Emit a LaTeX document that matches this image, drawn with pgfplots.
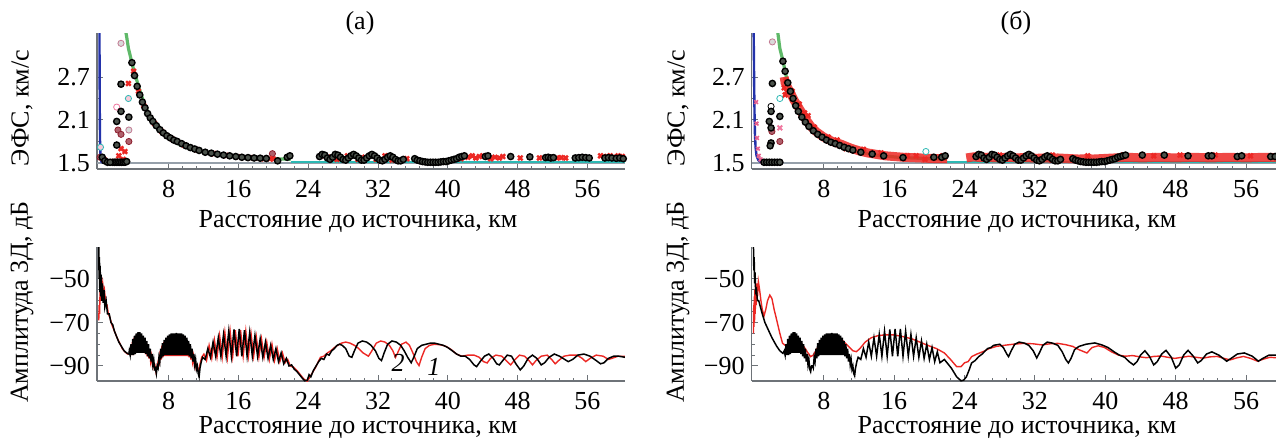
\documentclass[border=0pt]{standalone}
\usepackage{pgfplots}
\pgfplotsset{compat=1.18}
\usepackage{fontspec}
\setmainfont{LiberationSerif}[Extension=.ttf, UprightFont=*-Regular, ItalicFont=*-Italic, BoldFont=*-Bold]
\definecolor{cred}{RGB}{236,40,36}
\definecolor{cdred}{RGB}{140,30,45}
\definecolor{cgreen}{RGB}{95,185,105}
\definecolor{cblue}{RGB}{35,50,170}
\definecolor{cteal}{RGB}{45,185,180}
\definecolor{cpink}{RGB}{240,120,160}
\definecolor{cgray}{RGB}{150,160,170}
\definecolor{caxis}{RGB}{110,115,120}
\definecolor{cfill}{RGB}{75,82,75}
\pgfplotsset{
  panel/.style={
    scale only axis, clip=true,
    axis x line=bottom, axis y line=left,
    axis line style={-, draw=caxis, line width=0.6pt},
    every tick/.style={caxis, line width=0.5pt},
    tick align=inside,
    major tick length=3pt, minor tick length=1.5pt,
    xtick={8,16,24,32,40,48,56},
    minor x tick num=4,
    tick label style={font=\fontsize{13}{13}\selectfont, text=black},
    /pgf/number format/assume math mode=true,
    xticklabel style={yshift=-2pt},
    xmin=-0.2,
  },
  toppanel/.style={panel, ymin=1.416, ymax=3.314, ytick={1.5,2.1,2.7},
    yticklabels={1.5,2.1,2.7}, minor y tick num=1, height=68pt},
  botpanel/.style={panel, ymin=-96.9, ymax=-35.3, ytick={-90,-70,-50},
    yticklabels={−90,−70,−50}, minor y tick num=3, height=67pt},
  bc/.style={only marks, mark=*, mark size=1.55pt,
    mark options={draw=black, fill=cfill, line width=0.7pt}},
  rx/.style={only marks, mark=x, mark size=1.6pt,
    mark options={draw=cred, line width=1.2pt}},
}
\begin{document}
\begin{tikzpicture}
\useasboundingbox (0pt,0pt) rectangle (638pt,-220pt);

% ================= (a) top =================
\begin{axis}[toppanel, at={(48.5pt,-16.5pt)}, anchor=north west, width=264pt, xmax=60.3]
\addplot[cgray, line width=0.6pt] coordinates {(-0.2,1.5) (60.3,1.5)};
\addplot[cteal, line width=0.6pt] coordinates {(22,1.515) (25,1.515) (35.5,1.515) (60.3,1.515)};
\addplot[cblue, line width=1.2pt] coordinates {(0.08,3.33) (0.1,2.8) (0.12,2.2) (0.15,1.8) (0.2,1.6) (0.3,1.52) (0.5,1.5)};
\addplot[cgreen, line width=1.6pt] coordinates {(3.1,3.33) (3.2,3.26) (3.4,3.1) (3.6,3.0) (3.8,2.9) (4.0,2.8) (4.3,2.68) (4.6,2.55) (4.93,2.43) (5.3,2.3) (5.7,2.19) (6.2,2.07) (7.0,1.96) (7.5,1.9) (8,1.86) (9.1,1.77) (10,1.72) (11,1.68) (12.2,1.65) (14,1.61) (16.4,1.58) (18,1.57) (20.2,1.56) (22,1.55)};
% near-source scatter
\addplot[only marks, mark=*, mark size=1.55pt, mark options={draw=cpink!60!gray, fill=gray!30}] coordinates {(2.55,3.17) (3.45,1.96)};
\addplot[only marks, mark=*, mark size=1.55pt, mark options={draw=cpink, fill=white}] coordinates {(2.06,2.28)};
\addplot[only marks, mark=*, mark size=1.55pt, mark options={draw=cteal, fill=cpink!40}] coordinates {(3.4,2.40) (0.2,1.72)};
\addplot[only marks, mark=*, mark size=1.55pt, mark options={draw=cdred, fill=cdred!70}] coordinates {(2.2,1.96) (3.45,1.80) (2.55,1.90) (0.15,1.58) (19.9,1.63)};
\addplot[rx] coordinates {(3.4,2.61) (2.55,1.70) (3.0,1.66) (2.3,1.6) (2.8,1.55) (1.7,1.52) (2.3,1.52) (2.9,1.53) (0.6,1.55)};
\addplot[bc] coordinates {(2.55,2.60) (2.55,2.22) (2.06,2.08) (2.06,1.75) (3.45,2.14) (1.6,1.51) (1.8,1.51) (2.0,1.51) (2.2,1.51) (2.4,1.51) (2.6,1.51) (2.8,1.51) (3.0,1.51) (3.2,1.52) (0.4,1.58) (0.7,1.53) (1.0,1.51) (1.3,1.51)};
% along the curve
\addplot[rx] coordinates {(4.0,2.78) (4.55,2.5) (5.15,2.3) (6.4,2.05) (7.2,1.94) (8.4,1.835) (9.8,1.75) (11.2,1.685) (13.2,1.63) (14.6,1.605) (16.0,1.585) (17.4,1.572) (18.2,1.568) (18.9,1.56) (19.6,1.56) (20.0,1.555)};
\addplot[bc] coordinates {(3.8,2.90) (4.1,2.72) (4.4,2.57) (4.7,2.45) (5.0,2.35) (5.3,2.27) (5.6,2.19) (5.9,2.13) (6.2,2.08) (6.6,2.02) (7.0,1.965) (7.4,1.92) (7.8,1.88) (8.2,1.85) (8.6,1.82) (9.0,1.80) (9.5,1.77) (10.0,1.74) (10.5,1.715) (11.0,1.695) (11.5,1.675) (12.2,1.65) (12.9,1.637) (13.6,1.623) (14.3,1.61) (15.0,1.60) (15.7,1.59) (16.4,1.58) (17.1,1.575) (17.8,1.57) (18.5,1.567) (19.2,1.563) (20.5,1.53) (21.6,1.58) (21.9,1.6)};
% far field
\addplot[rx] coordinates {(25.5,1.6) (26.3,1.58) (27.3,1.55) (28.5,1.6) (29.7,1.55) (30.5,1.58) (31.8,1.55) (32.8,1.6) (33.6,1.54) (35.3,1.56) (41.5,1.56) (42.3,1.58) (42.8,1.60) (43.2,1.57) (43.6,1.59) (44.0,1.6) (44.9,1.56) (45.4,1.58) (45.9,1.57) (46.3,1.59) (48.3,1.57) (50.5,1.57) (52.5,1.57) (53.0,1.575) (53.5,1.57) (57.5,1.6) (58.2,1.59) (58.6,1.6) (59.0,1.58) (59.5,1.6) (60.0,1.59)};
\addplot[bc] coordinates {(25.3,1.59) (25.6,1.62) (25.9,1.61) (26.2,1.57) (26.5,1.55) (26.8,1.58) (27.1,1.62) (27.4,1.61) (27.7,1.58) (28.0,1.55) (28.3,1.54) (28.6,1.57) (28.9,1.60) (29.2,1.62) (29.5,1.60) (29.8,1.57) (30.1,1.54) (30.4,1.54) (30.7,1.57) (31.0,1.60) (31.3,1.62) (31.6,1.60) (31.9,1.57) (32.2,1.54) (32.5,1.53) (32.8,1.55) (33.1,1.58) (33.4,1.60) (33.7,1.58) (34.0,1.55) (34.3,1.53) (34.6,1.53) (34.9,1.55) (36.2,1.56) (36.5,1.54) (36.8,1.53) (37.1,1.52) (37.4,1.515) (37.7,1.51) (38.0,1.51) (38.3,1.51) (38.6,1.51) (38.9,1.51) (39.2,1.515) (39.5,1.52) (39.8,1.52) (40.1,1.53) (40.4,1.54) (40.7,1.55) (41.0,1.56) (41.3,1.58) (41.6,1.59) (41.9,1.60) (44.3,1.59) (44.6,1.60) (47.2,1.59) (49.4,1.585) (51.2,1.575) (51.5,1.58) (51.8,1.57) (52.1,1.575) (54.6,1.57) (55.0,1.575) (55.4,1.58) (55.8,1.575) (56.2,1.57) (58.0,1.57) (58.4,1.575) (58.8,1.57) (59.3,1.565) (59.7,1.57) (60.1,1.56)};
\end{axis}

% ================= (a) bottom =================
\begin{axis}[botpanel, at={(48.5pt,-123.5pt)}, anchor=north west, width=264pt, xmax=60.3]
\addplot[cred, line width=0.7pt] coordinates {
(0.00,-69) (0.05,-62) (0.10,-66) (0.15,-56) (0.20,-60) (0.28,-51) (0.35,-55) (0.45,-52) (0.55,-57) (0.65,-55) (0.80,-61) (0.95,-62) (1.10,-66) (1.30,-68) (1.50,-71) (1.80,-74) (2.10,-77) (2.40,-79.5) (2.70,-82) (3.00,-83.5) (3.30,-84.5) (3.55,-84)
(3.65,-82) (3.75,-85) (3.85,-79) (3.95,-85) (4.05,-77) (4.15,-84.5) (4.25,-76) (4.35,-84) (4.45,-75.5) (4.55,-84) (4.65,-75.5) (4.75,-84) (4.85,-76) (4.95,-84) (5.05,-77) (5.15,-84) (5.25,-78) (5.35,-84.5) (5.45,-79.5) (5.55,-85.5) (5.65,-81) (5.75,-86.5) (5.85,-83) (5.95,-88) (6.05,-85.5) (6.15,-89.5) (6.25,-88) (6.35,-91) (6.45,-90) (6.55,-92.5) (6.65,-91) (6.75,-89)
(6.85,-87) (6.95,-88.5) (7.05,-83) (7.15,-87) (7.25,-80.5) (7.35,-86) (7.45,-79) (7.55,-85.5) (7.65,-78) (7.75,-85.5) (7.85,-77) (7.95,-85.5) (8.05,-76.5) (8.15,-85.5) (8.25,-76) (8.35,-85.5) (8.45,-75.8) (8.55,-85.5) (8.65,-75.5) (8.75,-85.5) (8.85,-75.5) (8.95,-85.5) (9.05,-75.5) (9.15,-85.5) (9.25,-75.5) (9.35,-85.5) (9.45,-75.8) (9.55,-85.5) (9.65,-76) (9.75,-85.5) (9.85,-77) (9.95,-85.5) (10.05,-78) (10.15,-85.5) (10.25,-79.5) (10.35,-86) (10.45,-81) (10.55,-87) (10.65,-83) (10.75,-88) (10.85,-85.5) (10.95,-89.5) (11.05,-88) (11.15,-91) (11.25,-90) (11.35,-92) (11.45,-92) (11.55,-90)
(11.80,-86) (12.05,-84.5) (12.35,-87.5) (12.65,-80.5) (12.95,-86.5) (13.25,-78) (13.55,-86) (13.85,-76) (14.15,-86) (14.45,-74.5) (14.75,-86) (15.05,-73.8) (15.35,-85.5) (15.65,-73.5) (15.95,-85.5) (16.25,-73.5) (16.55,-85.5) (16.85,-74) (17.15,-85.5) (17.45,-75) (17.75,-85.5) (18.05,-76.5) (18.35,-86) (18.65,-77.5) (18.95,-86) (19.25,-79) (19.55,-87) (19.85,-80) (20.15,-87.5) (20.45,-82) (20.75,-88) (21.05,-84) (21.35,-88.5) (21.65,-87) (21.95,-90) (22.30,-90.5) (22.70,-92) (23.10,-94) (23.50,-96) (23.90,-97) (24.20,-95) (24.50,-93) (24.80,-91) (25.10,-88.5) (25.40,-86) (25.80,-85.5) (26.20,-84) (26.60,-83) (27.00,-81.5) (27.40,-80.5) (27.80,-79.5) (28.30,-79) (28.80,-79.5) (29.30,-80.5) (29.80,-82) (30.30,-84) (30.90,-85.5) (31.30,-83) (31.80,-79.5) (32.30,-78.5) (32.80,-79) (33.30,-80.5) (33.70,-83) (34.00,-86) (34.30,-83.5) (34.70,-80) (35.20,-79) (35.60,-80.5) (36.00,-84) (36.40,-88) (36.70,-89.8) (37.00,-86) (37.40,-82) (37.90,-80.5) (38.50,-80) (39.20,-80.3) (39.80,-81) (40.40,-82.5) (41.00,-84.5) (41.60,-85.5) (42.30,-85) (43.00,-85) (43.60,-86) (44.10,-88) (44.50,-88.6) (44.90,-86.5) (45.50,-85) (46.20,-85.5) (46.80,-88) (47.20,-89.5) (47.60,-87.5) (48.20,-85) (48.80,-85.5) (49.30,-87.5) (49.70,-89.5) (50.10,-87.5) (50.70,-85.5) (51.40,-85) (51.90,-87) (52.30,-89) (52.70,-87.5) (53.30,-85.5) (54.00,-85) (54.80,-85) (55.40,-86.5) (55.80,-88) (56.30,-86.5) (57.00,-85) (57.80,-85.5) (58.40,-87) (58.80,-86.5) (59.50,-85.5) (60.30,-85.5)};
\addplot[black, line width=0.75pt] coordinates {
(0.00,-35) (0.04,-50) (0.08,-40) (0.12,-56) (0.16,-44) (0.22,-58) (0.28,-48) (0.35,-60) (0.42,-52) (0.50,-61) (0.60,-55) (0.70,-63) (0.85,-60) (1.00,-66) (1.20,-66) (1.40,-70) (1.60,-71) (1.80,-74) (2.00,-76) (2.30,-79) (2.60,-81) (2.90,-83) (3.20,-84) (3.45,-84.5)
(3.50,-83) (3.60,-85) (3.70,-80) (3.80,-85) (3.90,-77.5) (4.00,-85) (4.10,-76) (4.20,-84.5) (4.30,-75) (4.40,-84) (4.50,-74.5) (4.60,-84) (4.70,-74.5) (4.80,-84) (4.90,-75) (5.00,-84) (5.10,-76) (5.20,-84) (5.30,-77) (5.40,-84.5) (5.50,-78.5) (5.60,-85.5) (5.70,-80) (5.80,-86.5) (5.90,-82) (6.00,-88) (6.10,-84.5) (6.20,-89.5) (6.30,-87) (6.40,-91.5) (6.50,-91) (6.60,-93.5) (6.70,-90)
(6.80,-91) (6.90,-86) (7.00,-88) (7.10,-82) (7.20,-86.5) (7.30,-79.5) (7.40,-85.5) (7.50,-78) (7.60,-85) (7.70,-77) (7.80,-85) (7.90,-76) (8.00,-85) (8.10,-75.5) (8.20,-85) (8.30,-75) (8.40,-85) (8.50,-75) (8.60,-85) (8.70,-75) (8.80,-85) (8.90,-74.8) (9.00,-85) (9.10,-75) (9.20,-85) (9.30,-75) (9.40,-85) (9.50,-75) (9.60,-85) (9.70,-75.5) (9.80,-85) (9.90,-76) (10.00,-85) (10.10,-77) (10.20,-85) (10.30,-78.5) (10.40,-85.5) (10.50,-80) (10.60,-86.5) (10.70,-82) (10.80,-88) (10.90,-84.5) (11.00,-89.5) (11.10,-87) (11.20,-91.5) (11.30,-90) (11.40,-93.5) (11.50,-95) (11.60,-91)
(11.75,-88) (11.90,-86) (12.20,-87) (12.50,-82) (12.80,-86) (13.10,-79) (13.40,-85.5) (13.70,-77) (14.00,-85.5) (14.30,-75.5) (14.60,-85.5) (14.90,-74) (15.20,-85.5) (15.50,-73.2) (15.80,-85.5) (16.10,-73) (16.40,-85.5) (16.70,-73.5) (17.00,-85.5) (17.30,-74.5) (17.60,-85.5) (17.90,-76) (18.20,-85.5) (18.50,-77.5) (18.80,-86) (19.10,-79) (19.40,-86.5) (19.70,-80.5) (20.00,-87) (20.30,-82) (20.60,-88) (20.90,-84) (21.20,-89) (21.50,-86.5) (21.80,-90) (22.10,-89.5) (22.40,-91.5) (22.70,-92.5) (23.00,-94) (23.30,-95.5) (23.60,-96.8) (23.90,-96.5) (24.10,-94) (24.30,-95) (24.60,-92) (24.90,-90) (25.20,-88) (25.50,-86.5) (25.80,-87) (26.10,-84.5) (26.40,-85) (26.70,-83) (27.00,-82) (27.30,-80.5) (27.60,-80) (27.90,-80.5) (28.30,-82) (28.70,-85.5) (29.00,-86) (29.30,-83) (29.70,-79.5) (30.20,-78.5) (30.70,-79) (31.20,-80.5) (31.70,-83) (32.10,-86.5) (32.40,-87.5) (32.70,-84) (33.10,-80) (33.60,-78.5) (34.10,-79) (34.60,-80.5) (35.00,-83) (35.40,-86) (35.80,-88.5) (36.10,-86) (36.50,-82) (37.00,-80.5) (37.50,-80) (38.00,-79.5) (38.50,-79.5) (39.00,-80) (39.50,-80.5) (40.00,-81.5) (40.50,-83) (41.00,-84.5) (41.50,-85.5) (42.00,-85.5) (42.50,-87) (43.00,-89.5) (43.30,-90.3) (43.70,-88) (44.20,-85.5) (44.70,-84.5) (45.20,-86.5) (45.60,-89) (45.90,-89.5) (46.30,-87.5) (46.80,-85) (47.30,-85.5) (47.80,-89) (48.30,-91.8) (48.70,-90) (49.20,-86.5) (49.70,-85) (50.20,-86.5) (50.70,-89.5) (51.10,-88.5) (51.60,-86) (52.20,-84.5) (52.80,-85.5) (53.40,-87) (53.80,-88) (54.30,-87) (54.90,-85) (55.60,-84.5) (56.30,-85.5) (57.00,-87.5) (57.50,-89) (57.90,-88.5) (58.40,-86.5) (59.00,-85.5) (59.60,-85.5) (60.30,-86)};
\node[font=\fontsize{13}{13}\selectfont\itshape] at (axis cs:34.3,-88.6) {2};
\node[font=\fontsize{13}{13}\selectfont\itshape] at (axis cs:38.4,-90.4) {1};
\end{axis}

% ================= (б) top =================
\begin{axis}[toppanel, at={(375.85pt,-16.5pt)}, anchor=north west, width=262.15pt, xmax=59.4]
\addplot[cgray, line width=0.6pt] coordinates {(-0.2,1.5) (59.4,1.5)};
\addplot[cteal, line width=0.6pt] coordinates {(22,1.515) (25,1.515) (38,1.515) (59.4,1.515)};
\addplot[cblue, line width=1.2pt] coordinates {(0.02,3.33) (0.05,3.0) (0.08,2.6) (0.12,2.2) (0.17,1.9) (0.24,1.72) (0.35,1.6) (0.55,1.54) (0.85,1.51) (1.3,1.5)};
\addplot[only marks, mark=x, mark size=1.3pt, mark options={draw=cpink!80!purple, line width=0.8pt}] coordinates {(0.3,2.35) (0.35,2.05) (0.4,1.85) (0.5,1.7) (0.6,1.6) (0.8,1.55) (1.0,1.52) (1.2,1.51)};
\addplot[cgreen, line width=1.6pt] coordinates {(2.75,3.33) (2.8,3.29) (3.0,3.1) (3.2,3.0) (3.4,2.9) (3.7,2.72) (4.0,2.57) (4.3,2.45) (4.6,2.35) (5.2,2.19) (5.8,2.08) (6.6,1.965) (7.4,1.88) (8.2,1.82) (9.1,1.77) (10,1.72) (11,1.68) (12.2,1.65) (14,1.61) (16.4,1.58) (18,1.57) (20.2,1.56) (22,1.55)};
% red bands
\addplot[cred, opacity=0.85, line width=4.5pt] coordinates {(3.5,2.7) (3.6,2.62) (3.9,2.55) (4.2,2.48) (4.6,2.38) (5.0,2.3) (5.5,2.2) (6.0,2.1) (6.6,2.0) (7.2,1.93) (8.0,1.86) (9.0,1.8) (10.0,1.76) (11.0,1.71) (12.0,1.67) (13.0,1.64) (14.0,1.62) (15.0,1.60) (16.0,1.59) (17.0,1.58) (18.0,1.575) (19.0,1.57) (20.0,1.565) (21.0,1.56) (22.0,1.56)};
\addplot[cred, opacity=0.85, line width=4.5pt] coordinates {(24.2,1.57) (25.0,1.585) (25.8,1.575) (26.6,1.58) (27.4,1.57) (28.2,1.575) (29.0,1.58) (29.8,1.57) (30.6,1.575) (31.4,1.57) (32.2,1.565) (33.0,1.57) (33.8,1.565) (34.6,1.57) (35.4,1.565) (36.2,1.56) (37.0,1.555) (37.8,1.56) (38.6,1.555) (39.4,1.56) (40.2,1.565) (41.0,1.57) (41.8,1.575) (42.6,1.58) (43.4,1.575) (44.2,1.57) (45.0,1.575) (46.0,1.58) (47.0,1.575) (48.0,1.57) (49.0,1.575) (50.0,1.58) (51.0,1.575) (52.0,1.57) (53.0,1.575) (54.0,1.58) (55.0,1.575) (56.0,1.57) (57.0,1.575) (58.0,1.58) (59.4,1.575)};
\addplot[rx] coordinates {(3.5,2.55) (3.6,2.45) (3.7,2.65) (3.8,2.5) (4.4,2.5) (5.2,2.32) (5.8,2.2) (6.2,2.16) (6.9,2.0) (8.5,1.86) (9.5,1.82) (10.5,1.7) (12.5,1.69) (14.5,1.64) (17.5,1.6) (18.5,1.6) (19.5,1.55) (21.5,1.6) (25.4,1.61) (28.0,1.61) (31.0,1.6) (34.0,1.61) (38.0,1.6) (42.0,1.61) (45.5,1.6) (48.5,1.61) (52.5,1.61) (56.5,1.6)};
% near-source scatter
\addplot[only marks, mark=*, mark size=1.55pt, mark options={draw=cpink!60!gray, fill=gray!30}] coordinates {(2.15,3.19)};
\addplot[only marks, mark=*, mark size=1.55pt, mark options={draw=cteal, fill=white}] coordinates {(3.0,2.40) (19.6,1.66)};
\addplot[only marks, mark=*, mark size=1.55pt, mark options={draw=black, fill=white}] coordinates {(2.0,2.29)};
\addplot[only marks, mark=*, mark size=1.55pt, mark options={draw=cdred, fill=cdred!70}] coordinates {(3.0,1.80) (2.1,1.94)};
\addplot[only marks, mark=x, mark size=1.6pt, mark options={draw=cpink, line width=1pt}] coordinates {(3.0,1.99)};
\addplot[bc] coordinates {(2.15,2.61) (2.0,2.22) (1.8,2.08) (3.0,2.15) (2.0,1.99) (2.0,1.78) (1.9,1.74) (1.2,1.51) (1.5,1.51) (1.8,1.51) (2.1,1.51) (2.4,1.51) (2.7,1.51) (3.0,1.51)};
\addplot[bc] coordinates {(3.35,2.92) (3.6,2.78) (3.9,2.62) (4.2,2.5) (4.5,2.4) (4.8,2.3) (5.1,2.22) (5.5,2.14) (5.9,2.07) (6.3,2.01) (6.8,1.95) (7.3,1.9) (7.8,1.86) (8.3,1.82) (8.8,1.79) (9.3,1.77) (9.8,1.745) (10.3,1.72) (10.8,1.70) (11.3,1.68) (12.2,1.65) (13.5,1.625) (14.8,1.60) (17,1.575) (20.5,1.58) (21.4,1.58) (21.8,1.6)};
\addplot[bc] coordinates {(25.3,1.59) (25.6,1.62) (25.9,1.61) (26.2,1.57) (26.5,1.55) (26.8,1.58) (27.1,1.62) (27.4,1.61) (27.7,1.58) (28.0,1.55) (28.3,1.54) (28.6,1.57) (28.9,1.60) (29.2,1.62) (29.5,1.60) (29.8,1.57) (30.1,1.54) (30.4,1.54) (30.7,1.57) (31.0,1.60) (31.3,1.62) (31.6,1.60) (31.9,1.57) (32.2,1.54) (32.5,1.53) (32.8,1.55) (33.1,1.58) (33.4,1.60) (33.7,1.58) (34.0,1.55) (34.3,1.53) (34.6,1.53) (34.9,1.55) (36.3,1.56) (36.6,1.54) (36.9,1.53) (37.2,1.52) (37.5,1.515) (37.8,1.51) (38.1,1.51) (38.4,1.51) (38.7,1.51) (39.0,1.51) (39.3,1.515) (39.6,1.52) (39.9,1.52) (40.2,1.53) (40.5,1.54) (40.8,1.55) (41.1,1.56) (41.4,1.58) (41.7,1.59) (42.0,1.60) (42.3,1.61) (44.2,1.61) (46.7,1.61) (49.4,1.60) (51.7,1.60) (52.1,1.60) (55.0,1.59) (55.5,1.60) (58.8,1.59) (59.3,1.59)};
\end{axis}

% ================= (б) bottom =================
\begin{axis}[botpanel, at={(375.85pt,-123.5pt)}, anchor=north west, width=262.15pt, xmax=59.4]
\addplot[cred, line width=0.7pt] coordinates {
(0.00,-75) (0.03,-62) (0.06,-72) (0.09,-58) (0.12,-70) (0.16,-55) (0.20,-66) (0.25,-53) (0.30,-62) (0.38,-52) (0.46,-58) (0.56,-51.2) (0.70,-55) (0.85,-60) (1.00,-64) (1.20,-67) (1.40,-64) (1.60,-60) (1.86,-57.4) (2.10,-59) (2.35,-64) (2.65,-69) (3.0,-75) (3.3,-79.5) (3.6,-80.5) (3.9,-80) (4.3,-78.5) (4.8,-78) (5.3,-79) (5.8,-81.5) (6.2,-84) (6.5,-85.7) (6.8,-85) (7.3,-81.5) (7.9,-78.5) (8.5,-77) (9.0,-76.5) (9.6,-77) (10.2,-78.5) (10.8,-81) (11.3,-83) (11.7,-83.4) (12.1,-82) (12.7,-79) (13.4,-77) (14.2,-76) (15.0,-75.7) (16.0,-75.7) (17.0,-76.5) (18.0,-77.5) (18.9,-79) (19.8,-80.5) (20.8,-82) (21.7,-84) (22.4,-87) (23.1,-90.3) (23.6,-90.3) (24.0,-88.5) (24.4,-88) (24.8,-85.7) (25.4,-84.5) (26.1,-83.4) (26.8,-82) (27.6,-81) (28.5,-80.5) (29.5,-80) (30.7,-79.6) (31.8,-79.8) (32.8,-80.3) (33.7,-79.8) (34.6,-79.6) (35.5,-80.2) (36.3,-81) (37.0,-82.5) (37.9,-84) (38.5,-81.5) (39.2,-80.7) (39.9,-81.5) (40.7,-83.5) (41.5,-85) (42.3,-85.5) (43.1,-85.2) (43.9,-85.8) (44.7,-86.2) (45.5,-85.6) (46.3,-85.4) (47.1,-86) (47.9,-86.5) (48.7,-86) (49.5,-85.5) (50.3,-86) (51.1,-86.4) (51.9,-85.8) (52.7,-85.6) (53.5,-86.5) (54.2,-87.2) (54.9,-86.3) (55.7,-85.6) (56.5,-86.5) (57.3,-87.8) (58.0,-86.8) (58.7,-86) (59.4,-86.2)};
\addplot[black, line width=0.75pt] coordinates {
(0.00,-35) (0.04,-46) (0.08,-40) (0.13,-52) (0.18,-47) (0.25,-56) (0.35,-55) (0.45,-60) (0.60,-60) (0.80,-63) (1.00,-66) (1.30,-70) (1.70,-73.5) (2.10,-77) (2.65,-81) (3.00,-83) (3.35,-84.2)
(3.50,-83) (3.60,-85) (3.70,-80) (3.80,-85) (3.90,-77.5) (4.00,-85) (4.10,-76) (4.20,-84.5) (4.30,-75) (4.40,-84) (4.50,-74.5) (4.60,-84) (4.70,-74.5) (4.80,-84) (4.90,-75) (5.00,-84) (5.10,-76) (5.20,-84) (5.30,-77) (5.40,-84.5) (5.50,-78.5) (5.60,-85.5) (5.70,-80) (5.80,-86.5) (5.90,-82) (6.00,-88) (6.10,-84.5) (6.20,-89.5) (6.30,-87) (6.40,-91.5) (6.50,-92.6) (6.60,-90) (6.70,-90)
(6.80,-91) (6.90,-86) (7.00,-88) (7.10,-82) (7.20,-86.5) (7.30,-79.5) (7.40,-85.5) (7.50,-78) (7.60,-85) (7.70,-77) (7.80,-85) (7.90,-76) (8.00,-85) (8.10,-75.5) (8.20,-85) (8.30,-75) (8.40,-85) (8.50,-75) (8.60,-85) (8.70,-75) (8.80,-85) (8.90,-74.8) (9.00,-85) (9.10,-75) (9.20,-85) (9.30,-75) (9.40,-85) (9.50,-75) (9.60,-85) (9.70,-75.5) (9.80,-85) (9.90,-76) (10.00,-85) (10.10,-77) (10.20,-85) (10.30,-78.5) (10.40,-85.5) (10.50,-80) (10.60,-86.5) (10.70,-82) (10.80,-88) (10.90,-84.5) (11.00,-89.5) (11.10,-87) (11.20,-91.5) (11.30,-90) (11.40,-93.5) (11.50,-94.5) (11.60,-91)
(11.75,-88) (11.90,-86) (12.20,-87) (12.50,-82) (12.80,-86) (13.10,-79) (13.40,-85.5) (13.70,-77) (14.00,-85.5) (14.30,-75.5) (14.60,-85.5) (14.90,-74) (15.20,-85.5) (15.50,-73.2) (15.80,-85.5) (16.10,-73) (16.40,-85.5) (16.70,-73) (17.00,-85.5) (17.30,-74) (17.60,-85.5) (17.90,-75.5) (18.20,-85.5) (18.50,-77) (18.80,-86) (19.10,-78.5) (19.40,-86.5) (19.70,-80) (20.00,-87) (20.30,-81.5) (20.60,-88) (20.90,-83.5) (21.20,-88.5) (21.70,-87) (22.50,-91) (23.10,-95) (23.60,-96.8) (23.90,-96.5) (24.20,-95) (24.50,-92) (24.80,-88.6) (25.20,-87.5) (25.60,-85.7) (26.00,-84.5) (26.60,-82) (27.00,-81.5) (27.30,-80.5) (28.00,-80) (28.40,-81.5) (28.80,-84.5) (29.00,-85.7) (29.30,-83) (29.70,-80) (30.20,-79) (30.80,-79.5) (31.30,-80.5) (31.80,-83) (32.20,-86.3) (32.50,-84) (32.90,-80.5) (33.40,-79) (34.00,-79.5) (34.60,-80.5) (35.10,-83.5) (35.50,-87) (35.80,-88.6) (36.10,-86.5) (36.50,-82.5) (37.00,-81) (37.80,-80) (38.80,-79.4) (39.60,-80.3) (40.30,-81.5) (41.00,-83.5) (41.60,-85) (42.20,-86) (42.70,-88) (43.20,-89.5) (43.60,-88) (44.00,-85) (44.50,-83) (45.00,-85.5) (45.50,-89.5) (45.90,-88) (46.40,-84.5) (46.90,-82.8) (47.50,-86) (48.00,-91) (48.40,-89.5) (48.90,-85) (49.40,-82.8) (50.00,-85.5) (50.50,-88.6) (50.90,-87.5) (51.50,-84.5) (52.10,-83.5) (52.90,-85) (53.80,-87.8) (54.30,-86.5) (55.00,-84.5) (55.80,-84) (56.70,-85.5) (57.40,-87.8) (57.90,-86.5) (58.60,-85) (59.40,-85)};
\end{axis}

% ================= texts =================
\node[font=\fontsize{13}{13}\selectfont] at (180pt,-11.5pt) {(а)};
\node[font=\fontsize{13}{13}\selectfont] at (508pt,-11.5pt) {(б)};
\node[font=\fontsize{13}{13}\selectfont, rotate=90] at (11pt,-54pt) {ЭФС, км/с};
\node[font=\fontsize{13}{13}\selectfont, rotate=90] at (339pt,-54pt) {ЭФС, км/с};
\node[font=\fontsize{13}{13}\selectfont, rotate=90] at (11pt,-151pt) {Амплитуда 3Д, дБ};
\node[font=\fontsize{13}{13}\selectfont, rotate=90] at (339pt,-151pt) {Амплитуда 3Д, дБ};
\node[font=\fontsize{13}{13}\selectfont, anchor=base] at (179pt,-113.5pt) {Расстояние до источника, км};
\node[font=\fontsize{13}{13}\selectfont, anchor=base] at (508.5pt,-113.5pt) {Расстояние до источника, км};
\node[font=\fontsize{13}{13}\selectfont, anchor=base] at (179pt,-216.5pt) {Расстояние до источника, км};
\node[font=\fontsize{13}{13}\selectfont, anchor=base] at (508.5pt,-216.5pt) {Расстояние до источника, км};
\end{tikzpicture}
\end{document}
